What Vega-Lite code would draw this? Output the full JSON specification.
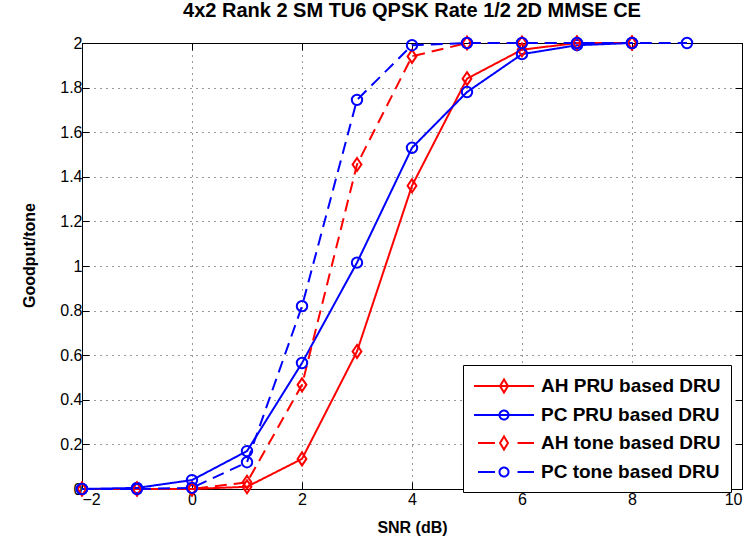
{
  "$schema": "https://vega.github.io/schema/vega-lite/v6.json",
  "width": 660,
  "height": 446,
  "autosize": {"type": "none"},
  "padding": {"left": 82, "top": 43, "right": 9, "bottom": 56},
  "background": "white",
  "title": {"text": "4x2 Rank 2 SM TU6 QPSK Rate 1/2 2D MMSE CE", "font": "Liberation Sans", "fontSize": 20, "fontWeight": "bold", "color": "black", "offset": 12, "anchor": "middle"},
  "config": {
    "view": {"stroke": "black", "strokeWidth": 1},
    "axis": {"labelFont": "Liberation Sans", "labelFontSize": 16, "labelColor": "black", "titleFont": "Liberation Sans", "titleFontSize": 16, "titleFontWeight": "bold", "titleColor": "black", "domainColor": "black", "tickColor": "black", "gridColor": "#000000", "gridDash": [1, 5], "gridOpacity": 0.8},
    "legend": {
      "orient": "none", "legendX": 381, "legendY": 322, "title": null,
      "labelFont": "Liberation Sans", "labelFontSize": 19, "labelFontWeight": "bold", "labelColor": "black", "labelLimit": 400,
      "symbolSize": 400, "symbolStrokeWidth": 2, "symbolFillColor": "transparent", "labelOffset": 46, "rowPadding": 7,
      "padding": 10, "strokeColor": "black", "fillColor": "white", "cornerRadius": 0
    }
  },
  "data": {"values": [
    {"snr": -2, "goodput": 0, "series": "AH PRU based DRU"},
    {"snr": -1, "goodput": 0, "series": "AH PRU based DRU"},
    {"snr": 0, "goodput": 0, "series": "AH PRU based DRU"},
    {"snr": 1, "goodput": 0.01, "series": "AH PRU based DRU"},
    {"snr": 2, "goodput": 0.135, "series": "AH PRU based DRU"},
    {"snr": 3, "goodput": 0.617, "series": "AH PRU based DRU"},
    {"snr": 4, "goodput": 1.36, "series": "AH PRU based DRU"},
    {"snr": 5, "goodput": 1.84, "series": "AH PRU based DRU"},
    {"snr": 6, "goodput": 1.97, "series": "AH PRU based DRU"},
    {"snr": 7, "goodput": 2.0, "series": "AH PRU based DRU"},
    {"snr": 8, "goodput": 2.0, "series": "AH PRU based DRU"},
    {"snr": -2, "goodput": 0, "series": "PC PRU based DRU"},
    {"snr": -1, "goodput": 0.005, "series": "PC PRU based DRU"},
    {"snr": 0, "goodput": 0.04, "series": "PC PRU based DRU"},
    {"snr": 1, "goodput": 0.17, "series": "PC PRU based DRU"},
    {"snr": 2, "goodput": 0.565, "series": "PC PRU based DRU"},
    {"snr": 3, "goodput": 1.015, "series": "PC PRU based DRU"},
    {"snr": 4, "goodput": 1.53, "series": "PC PRU based DRU"},
    {"snr": 5, "goodput": 1.78, "series": "PC PRU based DRU"},
    {"snr": 6, "goodput": 1.95, "series": "PC PRU based DRU"},
    {"snr": 7, "goodput": 1.99, "series": "PC PRU based DRU"},
    {"snr": 8, "goodput": 2.0, "series": "PC PRU based DRU"},
    {"snr": -2, "goodput": 0, "series": "AH tone based DRU"},
    {"snr": -1, "goodput": 0, "series": "AH tone based DRU"},
    {"snr": 0, "goodput": 0, "series": "AH tone based DRU"},
    {"snr": 1, "goodput": 0.03, "series": "AH tone based DRU"},
    {"snr": 2, "goodput": 0.467, "series": "AH tone based DRU"},
    {"snr": 3, "goodput": 1.455, "series": "AH tone based DRU"},
    {"snr": 4, "goodput": 1.94, "series": "AH tone based DRU"},
    {"snr": 5, "goodput": 2.0, "series": "AH tone based DRU"},
    {"snr": 6, "goodput": 2.0, "series": "AH tone based DRU"},
    {"snr": 7, "goodput": 2.0, "series": "AH tone based DRU"},
    {"snr": 8, "goodput": 2.0, "series": "AH tone based DRU"},
    {"snr": -2, "goodput": 0, "series": "PC tone based DRU"},
    {"snr": -1, "goodput": 0, "series": "PC tone based DRU"},
    {"snr": 0, "goodput": 0.005, "series": "PC tone based DRU"},
    {"snr": 1, "goodput": 0.12, "series": "PC tone based DRU"},
    {"snr": 2, "goodput": 0.82, "series": "PC tone based DRU"},
    {"snr": 3, "goodput": 1.745, "series": "PC tone based DRU"},
    {"snr": 4, "goodput": 1.99, "series": "PC tone based DRU"},
    {"snr": 5, "goodput": 2.0, "series": "PC tone based DRU"},
    {"snr": 6, "goodput": 2.0, "series": "PC tone based DRU"},
    {"snr": 7, "goodput": 2.0, "series": "PC tone based DRU"},
    {"snr": 8, "goodput": 2.0, "series": "PC tone based DRU"},
    {"snr": 9, "goodput": 2.0, "series": "PC tone based DRU"}
  ]},
  "resolve": {"axis": {"x": "independent", "y": "independent"}},
  "layer": [
    {
      "mark": {"type": "line", "strokeWidth": 2, "clip": false},
      "encoding": {
        "x": {"field": "snr", "type": "quantitative", "scale": {"domain": [-2, 10], "nice": false, "zero": false},
              "axis": {"title": "SNR (dB)", "values": [-2, 0, 2, 4, 6, 8, 10], "grid": true, "tickSize": -7, "labelPadding": 9, "titlePadding": 12, "domain": true}},
        "y": {"field": "goodput", "type": "quantitative", "scale": {"domain": [0, 2], "nice": false},
              "axis": {"title": "Goodput/tone", "values": [0, 0.2, 0.4, 0.6, 0.8, 1, 1.2, 1.4, 1.6, 1.8, 2], "labelExpr": "'' + datum.value", "grid": true, "tickSize": -7, "labelPadding": 7, "titlePadding": 22, "titleY": 212, "domain": true}},
        "color": {"field": "series", "type": "nominal",
                  "scale": {"domain": ["AH PRU based DRU", "PC PRU based DRU", "AH tone based DRU", "PC tone based DRU"], "range": ["#ff0000", "#0000ff", "#ff0000", "#0000ff"]},
                  "legend": {
                    "encode": {"symbols": {"update": {
                      "shape": {"signal": "datum.value == 'AH PRU based DRU' ? 'M-1,0H5M2,-0.65L2.4,0L2,0.65L1.6,0Z' : datum.value == 'PC PRU based DRU' ? 'M-1,0H5M2.45,0A0.45,0.45 0 1,1 1.55,0A0.45,0.45 0 1,1 2.45,0' : datum.value == 'AH tone based DRU' ? 'M-0.6,0H1.1M3.35,0H5M2,-0.65L2.4,0L2,0.65L1.6,0Z' : 'M-0.6,0H1.1M3.35,0H5M2.45,0A0.45,0.45 0 1,1 1.55,0A0.45,0.45 0 1,1 2.45,0'"},
                      "size": {"value": 400},
                      "strokeDash": {"value": [1, 0]},
                      "strokeWidth": {"value": 2}
                    }}}
                  }},
        "strokeDash": {"field": "series", "type": "nominal",
                       "scale": {"domain": ["PC PRU based DRU", "AH PRU based DRU", "PC tone based DRU", "AH tone based DRU"], "range": [[1, 0], [1, 0], [12, 7], [12, 7]]},
                       "legend": null}
      }
    },
    {
      "mark": {"type": "point", "filled": false, "strokeWidth": 2, "opacity": 1, "size": 169, "clip": false},
      "encoding": {
        "x": {"field": "snr", "type": "quantitative",
              "axis": {"orient": "top", "title": null, "labels": false, "grid": false, "tickSize": -7, "values": [-2, 0, 2, 4, 6, 8, 10], "domain": true}},
        "y": {"field": "goodput", "type": "quantitative",
              "axis": {"orient": "right", "title": null, "labels": false, "grid": false, "tickSize": -7, "values": [0, 0.2, 0.4, 0.6, 0.8, 1, 1.2, 1.4, 1.6, 1.8, 2], "domain": true}},
        "color": {"field": "series", "type": "nominal"},
        "shape": {"field": "series", "type": "nominal",
                  "scale": {"domain": ["PC PRU based DRU", "AH PRU based DRU", "PC tone based DRU", "AH tone based DRU"], "range": ["M0.8,0A0.8,0.8 0 1,1 -0.8,0A0.8,0.8 0 1,1 0.8,0", "M0,-1L0.68,0L0,1L-0.68,0Z", "M0.8,0A0.8,0.8 0 1,1 -0.8,0A0.8,0.8 0 1,1 0.8,0", "M0,-1L0.68,0L0,1L-0.68,0Z"]},
                  "legend": null}
      }
    }
  ]
}
